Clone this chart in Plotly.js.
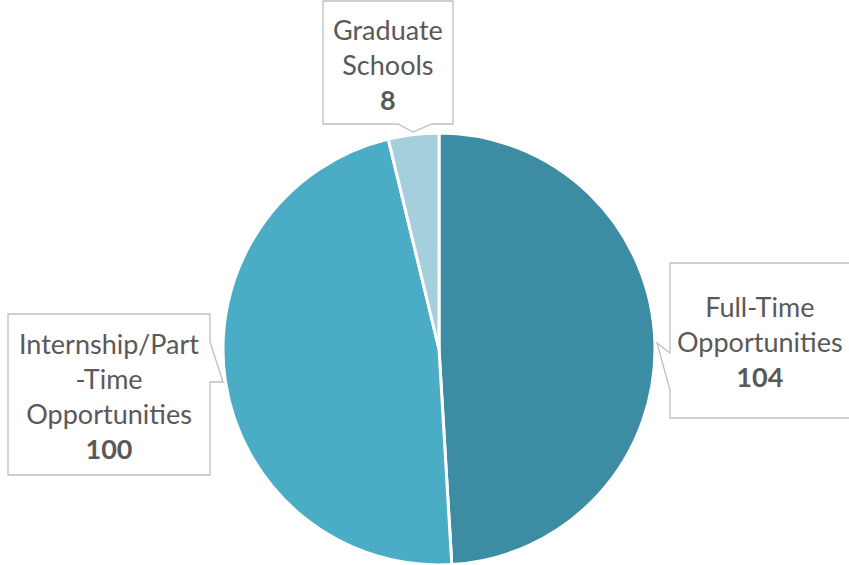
<!DOCTYPE html>
<html>
<head>
<meta charset="utf-8">
<script src="https://cdn.plot.ly/plotly-3.0.1.min.js"></script>
<style>html,body{margin:0;padding:0;background:#fff;}#chart{width:849px;height:565px;}</style>
</head>
<body>
<div id="chart"></div>
<script>
// ---- data ----
const categories = ['Full-Time Opportunities', 'Internship/Part-Time Opportunities', 'Graduate Schools'];
const labelLines = [['Full-Time', 'Opportunities'], ['Internship/Part', '-Time', 'Opportunities'], ['Graduate', 'Schools']];
const values = [104, 100, 8];
const colors = ['#3C8CA3', '#4BACC6', '#A5CFDC'];

// ---- layout helpers ----
const W = 849, H = 565;
const px = x => x / W;
const py = y => 1 - y / H;
function pathFromPx(pts) {
  return 'M ' + pts.map(p => px(p[0]).toFixed(5) + ',' + py(p[1]).toFixed(5)).join(' L ') + ' Z';
}

// callout geometry (pixels): box outline with pointer
const callouts = [
  { // Full-Time
    pts: [[670,263],[855,263],[855,418],[670,418],[670,390],[657,343],[670,353]],
    cx: 760, cy: 341
  },
  { // Internship
    pts: [[8,314],[210,314],[210,342],[223,382],[210,382],[210,475],[8,475]],
    cx: 109, cy: 396
  },
  { // Graduate
    pts: [[323,1],[453,1],[453,124],[432,124],[413,132],[398,124],[323,124]],
    cx: 388, cy: 64
  }
];

const shapes = callouts.map(c => ({
  type: 'path', xref: 'paper', yref: 'paper', path: pathFromPx(c.pts),
  fillcolor: '#FFFFFF', line: { color: '#BFBFBF', width: 1.3 }, layer: 'above'
}));

const annotations = callouts.map((c, i) => ({
  xref: 'paper', yref: 'paper', x: px(c.cx), y: py(c.cy), xanchor: 'center', yanchor: 'middle',
  showarrow: false, align: 'center',
  text: labelLines[i].join('<br>') + '<br><b>' + values[i] + '</b>',
  font: { family: 'Lato, "Open Sans", sans-serif', size: 27, color: '#595959' }
}));

const trace = {
  type: 'pie', labels: categories, values: values, sort: false, direction: 'clockwise', rotation: 0,
  marker: { colors: colors, line: { color: '#FFFFFF', width: 3 } },
  textinfo: 'none', hoverinfo: 'label+value', showlegend: false,
  domain: { x: [223 / W, 655 / W], y: [0, 432 / H] }
};

const layout = {
  width: W, height: H, margin: { l: 0, r: 0, t: 0, b: 0 },
  paper_bgcolor: '#FFFFFF', plot_bgcolor: '#FFFFFF',
  showlegend: false, shapes: shapes, annotations: annotations
};

Plotly.newPlot('chart', [trace], layout, { displayModeBar: false, staticPlot: true });
</script>
</body>
</html>
